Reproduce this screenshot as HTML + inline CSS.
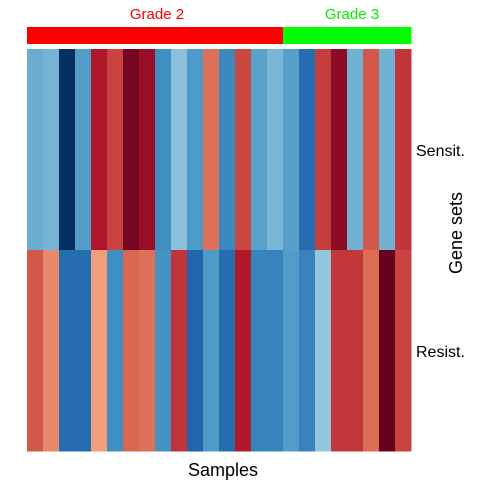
<!DOCTYPE html>
<html><head><meta charset="utf-8"><style>body{margin:0;background:#fff}svg text{font-family:"Liberation Sans",sans-serif}</style></head>
<body>
<svg id="chart" width="480" height="480" xmlns="http://www.w3.org/2000/svg">
<g id="anno"></g>
<g id="cells"></g>
<text x="157" y="19" font-size="15" fill="#ff0000" text-anchor="middle">Grade 2</text>
<text x="352" y="19" font-size="15" fill="#00ee00" text-anchor="middle">Grade 3</text>
<text x="416" y="156" font-size="16">Sensit.</text>
<text x="416" y="357" font-size="16">Resist.</text>
<text x="462" y="233" font-size="18" text-anchor="middle" transform="rotate(-90 462 233)">Gene sets</text>
<text x="223" y="476" font-size="18" text-anchor="middle">Samples</text>
</svg>
<script>
const grades=["2","2","2","2","2","2","2","2","2","2","2","2","2","2","2","2","3","3","3","3","3","3","3","3"];
const rows=["Sensit.","Resist."];
const sensit=[-0.5,-0.47,-1.0,-0.56,0.8,0.68,0.96,0.87,-0.62,-0.42,-0.57,0.55,-0.65,0.67,-0.54,-0.46,-0.55,-0.77,0.7,0.9,-0.48,0.62,-0.48,0.72];
const resist=[0.62,0.48,-0.77,-0.77,0.42,-0.62,0.58,0.55,-0.6,0.72,-0.8,-0.57,-0.77,0.8,-0.67,-0.67,-0.56,-0.67,-0.4,0.71,0.71,0.56,1.0,0.68];
const NS="http://www.w3.org/2000/svg";
const x0=27,x1=411,yTop=49,yBot=451;
const cw=(x1-x0)/grades.length, rh=(yBot-yTop)/rows.length;
const xs=i=>x0+i*cw, ys=r=>yTop+r*rh;
const stops=["#053061","#2166ac","#4393c3","#92c5de","#d1e5f0","#f7f7f7","#fddbc7","#f4a582","#d6604d","#b2182b","#67001f"];
function h2r(h){return[1,3,5].map(i=>parseInt(h.substr(i,2),16));}
function col(v){let t=(Math.max(-1,Math.min(1,v))+1)/2*10;let i=Math.min(9,Math.floor(t)),f=t-i;const a=h2r(stops[i]),b=h2r(stops[i+1]);return "rgb("+a.map((c,k)=>Math.round(c+(b[k]-c)*f)).join(",")+")";}
const cells=document.getElementById('cells');
[sensit,resist].forEach((arr,r)=>arr.forEach((v,i)=>{
  const e=document.createElementNS(NS,'rect');
  
  
  e.setAttribute('x',xs(i));e.setAttribute('y',ys(r));
  e.setAttribute('width',cw+0.5);e.setAttribute('height',rh+0.5);
  e.setAttribute('fill',col(v));cells.appendChild(e);
}));
const anno=document.getElementById('anno');
grades.forEach((g,i)=>{
  const e=document.createElementNS(NS,'rect');
  
  
  e.setAttribute('x',xs(i));e.setAttribute('y',27);
  e.setAttribute('width',cw+0.5);e.setAttribute('height',17);
  e.setAttribute('fill',g==="2"?"#ff0000":"#00ff00");anno.appendChild(e);
});
</script>
</body></html>
